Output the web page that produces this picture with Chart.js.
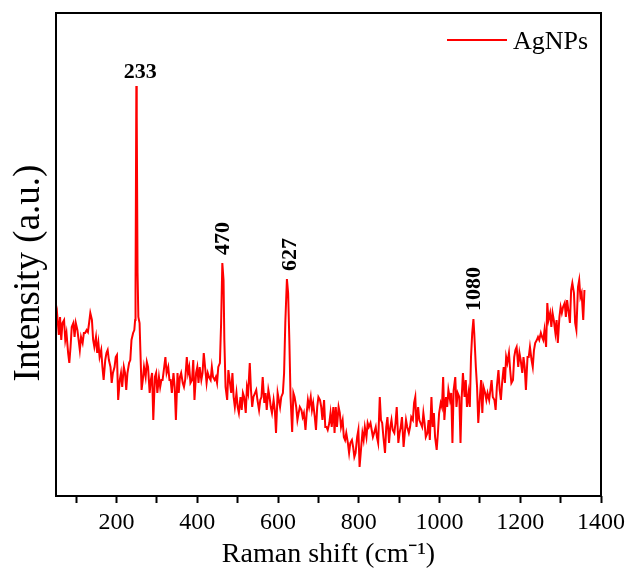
<!DOCTYPE html>
<html>
<head>
<meta charset="utf-8">
<title>AgNPs Raman spectrum</title>
<script src="https://cdn.jsdelivr.net/npm/chart.js@4/dist/chart.umd.min.js"></script>
<style>
  html, body { margin: 0; padding: 0; background: #fff; }
  #wrap { width: 630px; height: 575px; }
</style>
</head>
<body>
<div id="wrap"><canvas id="raman"></canvas></div>
<script>
// Raman shift (cm-1) and intensity (a.u.)
const shift = [
  50, 53, 57, 60, 63, 66, 70, 73, 76, 80, 83, 86, 89, 93, 96, 99, 103, 106, 109, 112,
  116, 119, 122, 126, 129, 132, 135, 139, 142, 145, 149, 152, 155, 158, 162, 165, 168, 172, 175, 178,
  181, 185, 188, 191, 195, 198, 201, 204, 208, 211, 214, 218, 221, 224, 227, 231, 234, 237, 241, 244,
  246, 247, 249, 250, 252, 254, 257, 259, 262, 265, 268, 272, 275, 278, 282, 285, 288, 291, 295, 298,
  301, 305, 308, 311, 314, 318, 321, 324, 328, 331, 334, 337, 341, 344, 347, 351, 354, 357, 360, 364,
  367, 370, 374, 377, 380, 383, 387, 390, 393, 397, 400, 403, 406, 410, 413, 416, 420, 423, 426, 429,
  433, 436, 439, 443, 446, 449, 452, 456, 459, 462, 465, 467, 470, 474, 477, 480, 484, 487, 490, 493,
  497, 500, 503, 507, 510, 513, 516, 520, 523, 526, 530, 533, 536, 539, 543, 546, 549, 553, 556, 559,
  562, 566, 569, 572, 576, 579, 582, 585, 589, 592, 595, 599, 602, 605, 608, 612, 615, 618, 622, 625,
  628, 631, 635, 638, 641, 645, 648, 651, 654, 658, 661, 664, 668, 671, 674, 677, 681, 684, 687, 691,
  694, 697, 700, 704, 707, 710, 714, 717, 720, 723, 727, 730, 733, 737, 740, 743, 746, 750, 753, 756,
  760, 763, 766, 769, 773, 776, 779, 783, 786, 789, 792, 796, 799, 802, 806, 809, 812, 815, 819, 822,
  825, 829, 832, 835, 838, 842, 845, 848, 852, 855, 858, 861, 865, 868, 871, 875, 878, 881, 884, 888,
  891, 894, 898, 901, 904, 907, 911, 914, 917, 920, 924, 927, 930, 934, 937, 940, 943, 947, 950, 953,
  957, 960, 963, 966, 970, 973, 976, 980, 983, 986, 989, 993, 996, 999, 1003, 1006, 1009, 1012, 1016, 1019,
  1022, 1026, 1029, 1032, 1035, 1039, 1042, 1045, 1049, 1052, 1055, 1058, 1062, 1065, 1068, 1072, 1075, 1078, 1081, 1084,
  1086, 1090, 1093, 1096, 1100, 1103, 1106, 1109, 1113, 1116, 1119, 1123, 1126, 1129, 1132, 1136, 1139, 1142, 1146, 1149,
  1152, 1155, 1159, 1162, 1165, 1168, 1172, 1175, 1178, 1182, 1185, 1188, 1191, 1195, 1198, 1201, 1205, 1208, 1211, 1214,
  1218, 1221, 1224, 1228, 1231, 1234, 1237, 1241, 1244, 1247, 1251, 1254, 1257, 1260, 1264, 1267, 1270, 1274, 1277, 1280,
  1283, 1287, 1290, 1293, 1297, 1300, 1303, 1306, 1310, 1313, 1316, 1320, 1323, 1326, 1329, 1333, 1336, 1339, 1343, 1346,
  1349, 1352, 1356, 1359
];
const intensity = [
  171, 181, 161, 179, 156, 173, 176, 156, 163, 143, 133, 149, 169, 173, 159, 173, 166, 156, 146, 159,
  153, 163, 163, 166, 164, 173, 183, 176, 156, 149, 159, 143, 153, 139, 146, 129, 116, 136, 143, 146,
  136, 129, 113, 123, 129, 139, 141, 96, 116, 123, 109, 129, 123, 106, 123, 133, 136, 156, 163, 166,
  176, 206, 410, 380, 223, 179, 173, 146, 106, 116, 129, 119, 134, 129, 103, 116, 123, 76, 119, 123,
  103, 119, 109, 116, 116, 129, 139, 123, 129, 116, 116, 103, 123, 109, 76, 123, 103, 119, 123, 113,
  109, 116, 139, 123, 129, 113, 116, 136, 96, 123, 129, 113, 129, 116, 123, 143, 126, 113, 123, 119,
  116, 129, 119, 116, 119, 113, 129, 133, 173, 233, 216, 156, 109, 96, 126, 116, 103, 123, 99, 89,
  103, 89, 83, 99, 86, 103, 99, 83, 109, 103, 133, 106, 89, 99, 103, 106, 96, 86, 96, 99,
  119, 93, 103, 86, 106, 99, 89, 83, 96, 86, 63, 103, 96, 89, 99, 103, 123, 173, 217, 203,
  156, 99, 64, 103, 99, 89, 76, 83, 89, 86, 79, 83, 66, 83, 96, 89, 99, 86, 93, 79,
  66, 89, 99, 96, 89, 76, 96, 69, 69, 66, 73, 83, 69, 89, 63, 89, 69, 89, 83, 69,
  76, 59, 56, 63, 53, 43, 53, 56, 49, 39, 43, 59, 66, 29, 49, 63, 56, 69, 59, 73,
  69, 73, 66, 59, 63, 69, 59, 53, 99, 76, 73, 59, 43, 69, 79, 53, 69, 76, 66, 63,
  73, 89, 53, 63, 69, 79, 49, 63, 76, 69, 63, 69, 79, 76, 93, 99, 69, 89, 76, 73,
  69, 83, 73, 59, 63, 76, 56, 99, 69, 83, 59, 46, 63, 83, 93, 89, 119, 76, 99, 89,
  106, 96, 103, 53, 106, 119, 89, 103, 99, 53, 99, 123, 99, 116, 89, 103, 89, 139, 163, 177,
  163, 129, 109, 73, 99, 116, 83, 109, 103, 96, 103, 96, 106, 116, 99, 96, 86, 109, 126, 106,
  96, 113, 129, 113, 139, 133, 143, 126, 113, 116, 139, 146, 149, 129, 143, 136, 123, 139, 129, 106,
  139, 139, 149, 136, 129, 146, 153, 156, 159, 156, 163, 159, 156, 166, 149, 193, 176, 183, 169, 183,
  176, 163, 176, 153, 179, 189, 183, 189, 193, 179, 196, 183, 173, 206, 213, 203, 173, 166, 209, 216,
  199, 203, 176, 206
];
// x axis ticks (minor every 100, labels every 200)
const xTicks = [100, 200, 300, 400, 500, 600, 700, 800, 900, 1000, 1100, 1200, 1300, 1400];
// peak annotations
const peakLabels = ['233', '470', '627', '1080'];
const peakShift = [249, 462, 622, 1084];
const peakRotated = [false, true, true, true];

const RED = '#ff0000';
const SERIF = '"Liberation Serif", "Times New Roman", serif';

// frame, legend, y title and peak labels
const decorPlugin = {
  id: 'decor',
  afterDatasetsDraw(chart) {
    const ctx = chart.ctx;
    const a = chart.chartArea;
    const xs = chart.scales.x;
    const ys = chart.scales.y;
    ctx.save();

    // peak labels
    ctx.fillStyle = '#000';
    ctx.font = 'bold 22px ' + SERIF;
    peakLabels.forEach(function (lab, i) {
      const idx = shift.indexOf(peakShift[i]);
      const px = xs.getPixelForValue(peakShift[i]);
      const py = ys.getPixelForValue(intensity[idx]);
      if (peakRotated[i]) {
        ctx.save();
        ctx.translate(px + (i === 2 ? 3 : 1), py - 8);
        ctx.rotate(-Math.PI / 2);
        ctx.textAlign = 'left';
        ctx.textBaseline = 'middle';
        ctx.fillText(lab, 0, 0);
        ctx.restore();
      } else {
        ctx.textAlign = 'center';
        ctx.textBaseline = 'alphabetic';
        ctx.fillText(lab, px + 4, py - 8);
      }
    });

    // legend
    ctx.strokeStyle = RED;
    ctx.lineWidth = 2;
    ctx.beginPath();
    ctx.moveTo(447, 40);
    ctx.lineTo(507, 40);
    ctx.stroke();
    ctx.fillStyle = '#000';
    ctx.font = '26px ' + SERIF;
    ctx.textAlign = 'left';
    ctx.textBaseline = 'middle';
    ctx.fillText(chart.data.datasets[0].label, 513, 42);

    // y axis title
    ctx.save();
    ctx.translate(29, 273);
    ctx.rotate(-Math.PI / 2);
    ctx.font = '37px ' + SERIF;
    ctx.textAlign = 'center';
    ctx.textBaseline = 'middle';
    ctx.fillText('Intensity (a.u.)', 0, 0);
    ctx.restore();

    // frame
    ctx.strokeStyle = '#000';
    ctx.lineWidth = 2;
    ctx.strokeRect(a.left, a.top, a.right - a.left, a.bottom - a.top);
    ctx.restore();
  }
};

new Chart(document.getElementById('raman'), {
  type: 'line',
  data: {
    datasets: [{
      label: 'AgNPs',
      data: shift.map(function (s, i) { return { x: s, y: intensity[i] }; }),
      borderColor: RED,
      borderWidth: 2,
      pointRadius: 0,
      tension: 0,
      fill: false
    }]
  },
  options: {
    responsive: true,
    maintainAspectRatio: false,
    animation: false,
    layout: { padding: { top: 13, right: 26, left: 0, bottom: 0 } },
    plugins: {
      legend: { display: false },
      tooltip: { enabled: false }
    },
    scales: {
      x: {
        type: 'linear',
        min: 50,
        max: 1400,
        afterBuildTicks: function (scale) {
          scale.ticks = xTicks.map(function (v) { return { value: v }; });
        },
        afterFit: function (scale) { scale.height = 79; },
        border: { display: false },
        grid: {
          drawOnChartArea: false,
          drawTicks: true,
          tickLength: 7,
          tickWidth: 2,
          tickColor: '#000'
        },
        ticks: {
          color: '#000',
          padding: 5,
          maxRotation: 0,
          autoSkip: false,
          font: { family: SERIF, size: 24 },
          callback: function (v) { return v % 200 === 0 ? String(v) : ''; }
        },
        title: {
          display: true,
          text: 'Raman shift (cm\u207B\u00B9)',
          color: '#000',
          padding: { top: 0, bottom: 4 },
          font: { family: SERIF, size: 28 }
        }
      },
      y: {
        min: 0,
        max: 483,
        afterFit: function (scale) { scale.width = 56; },
        border: { display: false },
        grid: { display: false },
        ticks: { display: false },
        title: { display: false }
      }
    }
  },
  plugins: [decorPlugin]
});
</script>
</body>
</html>
